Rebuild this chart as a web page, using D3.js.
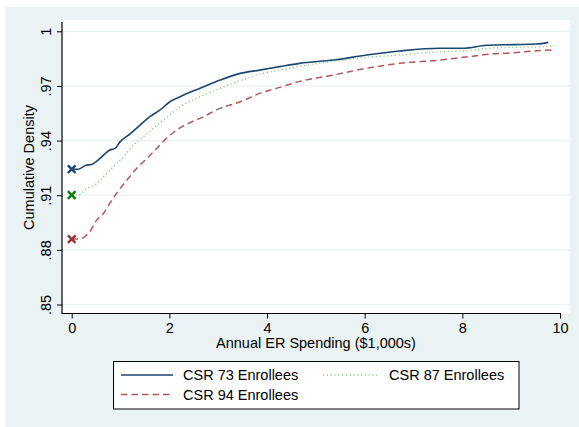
<!DOCTYPE html>
<html>
<head>
<meta charset="utf-8">
<script src="https://cdn.jsdelivr.net/npm/d3@7"></script>
<style>
  html, body { margin: 0; padding: 0; background: #ffffff; }
  svg { display: block; }
  text { font-family: "Liberation Sans", Arial, Helvetica, sans-serif; fill: #000; }
</style>
</head>
<body>
<svg id="chart" width="579" height="427"></svg>
<script>
// Empirical CDF of annual ER spending by CSR plan variant
const csr73X = [0, 0.135, 0.29, 0.41, 0.58, 0.78, 0.89, 0.99, 1.19, 1.40, 1.60, 1.81, 2.01, 2.22, 2.42, 2.63, 3.04, 3.45, 3.85, 4.26, 4.67, 5.36, 6.04, 6.72, 7.54, 8.02, 8.50, 9.04, 9.52, 9.76];
const csr73Y = [0.9243, 0.9243, 0.9264, 0.9269, 0.9302, 0.9348, 0.9357, 0.9393, 0.9436, 0.9485, 0.9531, 0.9568, 0.9613, 0.9641, 0.9665, 0.9687, 0.9732, 0.9769, 0.9787, 0.9806, 0.9824, 0.9842, 0.9870, 0.9892, 0.9907, 0.9907, 0.9923, 0.9927, 0.9930, 0.9939];

const csr87X = [0, 0.135, 0.31, 0.50, 0.65, 0.85, 1.06, 1.26, 1.47, 1.67, 1.88, 2.08, 2.28, 2.63, 3.04, 3.45, 3.85, 4.26, 4.67, 5.36, 6.04, 6.72, 7.54, 8.02, 8.56, 9.04, 9.52, 9.89];
const csr87Y = [0.9101, 0.9101, 0.9137, 0.9161, 0.9201, 0.9256, 0.9311, 0.9375, 0.9421, 0.9467, 0.9513, 0.9558, 0.9595, 0.9641, 0.9687, 0.9729, 0.9765, 0.9787, 0.9808, 0.9835, 0.9857, 0.9870, 0.9888, 0.9892, 0.9907, 0.9912, 0.9915, 0.9919];

const csr94X = [0, 0.135, 0.37, 0.51, 0.65, 0.78, 0.92, 1.13, 1.33, 1.54, 1.74, 1.94, 2.15, 2.42, 2.63, 3.04, 3.45, 3.85, 4.26, 4.67, 5.36, 6.04, 6.72, 7.54, 8.02, 8.56, 9.04, 9.52, 9.86];
const csr94Y = [0.8859, 0.8859, 0.8899, 0.8963, 0.9000, 0.9055, 0.9110, 0.9183, 0.9247, 0.9302, 0.9357, 0.9412, 0.9458, 0.9498, 0.9522, 0.9577, 0.9613, 0.9659, 0.9692, 0.9725, 0.9760, 0.9797, 0.9824, 0.9842, 0.9857, 0.9874, 0.9882, 0.9893, 0.9897];

const seriesNames = ["CSR 73 Enrollees", "CSR 87 Enrollees", "CSR 94 Enrollees"];
const xTicks = [0, 2, 4, 6, 8, 10];
const yTicks = [0.85, 0.88, 0.91, 0.94, 0.97, 1];
const yTickLabels = [".85", ".88", ".91", ".94", ".97", "1"];

const svg = d3.select("#chart");
const BG = "#eaf2f3";

// Graph background and plot region
svg.append("rect").attr("x", 5).attr("y", 7).attr("width", 574).attr("height", 420).attr("fill", BG);
svg.append("rect").attr("x", 62).attr("y", 20).attr("width", 508).attr("height", 293.5).attr("fill", "#ffffff");

const x = d3.scaleLinear().domain([0, 10]).range([71.7, 560]);
const y = d3.scaleLinear().domain([0.85, 1]).range([304.5, 31.3]);

// Horizontal grid
svg.append("g").selectAll("line").data(yTicks).join("line")
  .attr("x1", 62).attr("x2", 570)
  .attr("y1", d => y(d)).attr("y2", d => y(d))
  .attr("stroke", BG).attr("stroke-width", 1.2);

// Axes
const xAxis = d3.axisBottom(x).tickValues(xTicks).tickFormat(d3.format("d")).tickSize(5).tickPadding(4).tickSizeOuter(0);
const gx = svg.append("g").attr("transform", "translate(0,313.5)").call(xAxis);
gx.select(".domain").remove();
gx.append("line").attr("x1", 62).attr("x2", 561).attr("y1", 0).attr("y2", 0).attr("stroke", "#000").attr("stroke-width", 1.2);
gx.selectAll(".tick line").attr("stroke", "#000").attr("stroke-width", 1);
gx.selectAll(".tick text").attr("font-size", 14.5).attr("dy", null).attr("y", 19);

const yAxis = d3.axisLeft(y).tickValues(yTicks).tickFormat((d, i) => yTickLabels[i]).tickSize(5).tickPadding(4).tickSizeOuter(0);
const gy = svg.append("g").attr("transform", "translate(62,0)").call(yAxis);
gy.select(".domain").remove();
gy.append("line").attr("x1", 0).attr("x2", 0).attr("y1", 22).attr("y2", 314).attr("stroke", "#000").attr("stroke-width", 1.2);
gy.selectAll(".tick line").attr("stroke", "#000").attr("stroke-width", 1);
gy.selectAll(".tick text")
  .attr("font-size", 14.5)
  .attr("x", null).attr("dy", null)
  .attr("text-anchor", "middle")
  .attr("transform", "translate(-11.5,0) rotate(-90)");

// Axis titles
svg.append("text").attr("x", 316).attr("y", 348).attr("text-anchor", "middle").attr("font-size", 14.5)
  .text("Annual ER Spending ($1,000s)");
svg.append("text").attr("transform", "translate(34,167.5) rotate(-90)").attr("text-anchor", "middle").attr("font-size", 14.5)
  .text("Cumulative Density");

// Series
const series = [
  { xs: csr73X, ys: csr73Y, color: "#1a476f", marker: "#1a476f", width: 1.6, dash: null },
  { xs: csr87X, ys: csr87Y, color: "#80c880", marker: "#0a7d0a", width: 1.3, dash: "1.2,2.6" },
  { xs: csr94X, ys: csr94Y, color: "#b0585f", marker: "#90353b", width: 1.5, dash: "6.5,4" }
];

const line = d3.line().x(d => x(d[0])).y(d => y(d[1])).curve(d3.curveMonotoneX);

series.forEach(s => {
  const pts = s.xs.map((v, i) => [v, s.ys[i]]);
  svg.append("path").datum(pts)
    .attr("d", line)
    .attr("fill", "none")
    .attr("stroke", s.color)
    .attr("stroke-width", s.width)
    .attr("stroke-dasharray", s.dash);
});

// Markers at zero spending
const cross = d3.symbol().type(d3.symbolX).size(40);
series.forEach(s => {
  svg.append("path")
    .attr("d", cross())
    .attr("transform", `translate(${x(s.xs[0])},${y(s.ys[0])})`)
    .attr("fill", "none")
    .attr("stroke", s.marker)
    .attr("stroke-width", 2.4);
});

// Legend
const lg = svg.append("g");
lg.append("rect").attr("x", 113.5).attr("y", 361.5).attr("width", 405.5).attr("height", 47.5)
  .attr("fill", "#ffffff").attr("stroke", "#000").attr("stroke-width", 1);
const legendPos = [
  { lx: 121, ly: 375, tx: 183, ty: 379.5 },
  { lx: 323, ly: 375, tx: 389, ty: 379.5 },
  { lx: 121, ly: 394.5, tx: 183, ty: 399.5 }
];
series.forEach((s, i) => {
  const p = legendPos[i];
  lg.append("line").attr("x1", p.lx).attr("x2", p.lx + (i === 1 ? 54 : 52)).attr("y1", p.ly).attr("y2", p.ly)
    .attr("stroke", s.color).attr("stroke-width", s.width).attr("stroke-dasharray", s.dash);
  lg.append("text").attr("x", p.tx).attr("y", p.ty).attr("font-size", 14.5).text(seriesNames[i]);
});
</script>
</body>
</html>
